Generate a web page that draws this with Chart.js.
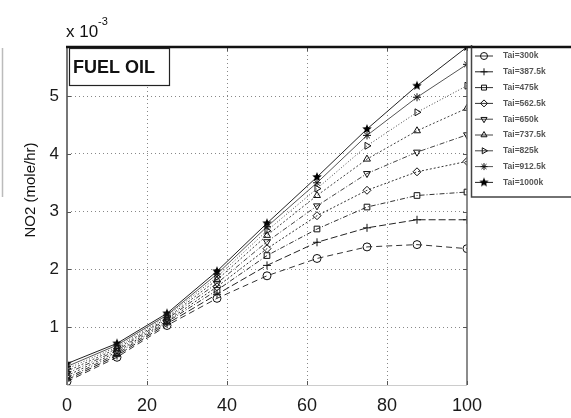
<!DOCTYPE html>
<html><head><meta charset="utf-8">
<script src="https://cdn.jsdelivr.net/npm/chart.js@4/dist/chart.umd.min.js"></script>
<style>html,body{margin:0;padding:0;background:#fff}#wrap{width:571px;height:418px;position:relative}</style>
</head><body><div id="wrap"><canvas id="c" width="571" height="418"></canvas></div>
<script>
// ---- data ----
const loads = [0, 12.5, 25, 37.5, 50, 62.5, 75, 87.5, 100];
const seriesLabels = ['Tai=300k','Tai=387.5k','Tai=475k','Tai=562.5k','Tai=650k','Tai=737.5k','Tai=825k','Tai=912.5k','Tai=1000k'];
const tai300  = [0.06, 0.48, 1.03, 1.50, 1.89, 2.19, 2.39, 2.43, 2.36];
const tai387  = [0.09, 0.51, 1.06, 1.57, 2.07, 2.47, 2.72, 2.86, 2.86];
const tai475  = [0.12, 0.54, 1.09, 1.64, 2.24, 2.70, 3.08, 3.28, 3.34];
const tai562  = [0.16, 0.57, 1.11, 1.70, 2.36, 2.93, 3.37, 3.69, 3.87];
const tai650  = [0.20, 0.60, 1.14, 1.76, 2.48, 3.10, 3.66, 4.03, 4.33];
const tai737  = [0.24, 0.63, 1.16, 1.82, 2.59, 3.28, 3.91, 4.40, 4.79];
const tai825  = [0.28, 0.66, 1.19, 1.87, 2.67, 3.40, 4.14, 4.72, 5.18];
const tai912  = [0.32, 0.69, 1.21, 1.92, 2.74, 3.50, 4.32, 4.98, 5.55];
const tai1000 = [0.37, 0.72, 1.24, 1.97, 2.80, 3.60, 4.43, 5.18, 5.85];
const xTicks = [0, 20, 40, 60, 80, 100];
const yTicks = [0, 1, 2, 3, 4, 5];
const yMax = 5.85;

// filled star marker for the hottest series
function filledStar(r){
  const c = document.createElement('canvas'); c.width = c.height = r*2+2;
  const g = c.getContext('2d'); g.fillStyle = '#000'; g.beginPath();
  for (let i=0;i<10;i++){
    const a = -Math.PI/2 + i*Math.PI/5, rr = i%2===0 ? r : r*0.45;
    const px = r+1 + rr*Math.cos(a), py = r+1 + rr*Math.sin(a);
    i===0 ? g.moveTo(px,py) : g.lineTo(px,py);
  }
  g.closePath(); g.fill(); return c;
}
const starImg = filledStar(5);

const allSeries = [tai300, tai387, tai475, tai562, tai650, tai737, tai825, tai912, tai1000];
const styles = [
  {ps:'circle', rot:0, dash:[6,4], col:'#333'},
  {ps:'cross', rot:0, dash:[7,3], col:'#222'},
  {ps:'rect', rot:0, dash:[5,2,1,2], col:'#333'},
  {ps:'rectRot', rot:0, dash:[2,2], col:'#333'},
  {ps:'triangle', rot:180, dash:[5,2,1,2], col:'#444'},
  {ps:'triangle', rot:0, dash:[2,2], col:'#444'},
  {ps:'triangle', rot:90, dash:[1,2], col:'#444'},
  {ps:'star', rot:0, dash:[], col:'#555'},
  {ps:starImg, rot:0, dash:[], col:'#222'}
];

const datasets = allSeries.map((s, i) => ({
  label: seriesLabels[i],
  data: loads.map((x, j) => ({x, y: s[j]})),
  borderColor: styles[i].col,
  backgroundColor: '#fff',
  pointBorderColor: '#111',
  pointBackgroundColor: 'rgba(255,255,255,0)',
  borderWidth: 1,
  borderDash: styles[i].dash,
  pointStyle: styles[i].ps,
  pointRotation: styles[i].rot,
  pointRadius: 4,
  pointBorderWidth: 1,
  tension: 0,
  fill: false
}));

const FONT = '"Liberation Sans", Arial, sans-serif';

const decor = {
  id: 'decor',
  afterDraw(chart) {
    const ctx = chart.ctx, a = chart.chartArea;
    const xs = chart.scales.x, ys = chart.scales.y;
    ctx.save();
    // stray gray line at left edge
    ctx.strokeStyle = '#bbb'; ctx.lineWidth = 1.5;
    ctx.beginPath(); ctx.moveTo(2.5, 48); ctx.lineTo(2.5, 197); ctx.stroke();
    // axes
    ctx.strokeStyle = '#777'; ctx.lineWidth = 2;
    ctx.beginPath(); ctx.moveTo(a.left, a.top); ctx.lineTo(a.left, a.bottom); ctx.stroke();
    ctx.strokeStyle = '#ccc'; ctx.lineWidth = 1;
    ctx.beginPath(); ctx.moveTo(a.left, a.bottom+0.5); ctx.lineTo(a.right, a.bottom+0.5); ctx.stroke();
    ctx.strokeStyle = '#666'; ctx.lineWidth = 1.5;
    ctx.beginPath(); ctx.moveTo(a.right, a.top); ctx.lineTo(a.right, a.bottom); ctx.stroke();
    // tick marks (inward)
    ctx.strokeStyle = '#555'; ctx.lineWidth = 1;
    xTicks.forEach(v => {
      if (v===0) return;
      const px = Math.round(xs.getPixelForValue(v))+0.5;
      ctx.beginPath(); ctx.moveTo(px, a.bottom); ctx.lineTo(px, a.bottom-4); ctx.stroke();
      ctx.beginPath(); ctx.moveTo(px, a.top); ctx.lineTo(px, a.top+4); ctx.stroke();
    });
    yTicks.forEach(v => {
      if (v===0) return;
      const py = Math.round(ys.getPixelForValue(v))+0.5;
      ctx.beginPath(); ctx.moveTo(a.left, py); ctx.lineTo(a.left+4, py); ctx.stroke();
      ctx.beginPath(); ctx.moveTo(a.right, py); ctx.lineTo(a.right-4, py); ctx.stroke();
    });
    // top border (thick), extends across legend
    ctx.strokeStyle = '#111'; ctx.lineWidth = 2.5;
    ctx.beginPath(); ctx.moveTo(a.left-1, a.top); ctx.lineTo(571, a.top); ctx.stroke();

    // exponent label
    ctx.fillStyle = '#111'; ctx.textBaseline = 'alphabetic'; ctx.textAlign = 'left';
    ctx.font = '17px ' + FONT; ctx.fillText('x 10', 66, 37);
    ctx.font = '11px ' + FONT; ctx.fillText('-3', 98, 25);

    // FUEL OIL box
    ctx.fillStyle = '#fff'; ctx.fillRect(69, 49, 101, 37);
    ctx.strokeStyle = '#222'; ctx.lineWidth = 1.2;
    ctx.strokeRect(69.5, 48.5, 100, 37);
    ctx.fillStyle = '#111'; ctx.font = 'bold 18px ' + FONT; ctx.textBaseline = 'middle';
    ctx.fillText('FUEL OIL', 73, 68);

    // y axis title
    ctx.save(); ctx.translate(31, 190); ctx.rotate(-Math.PI/2);
    ctx.textAlign = 'center'; ctx.textBaseline = 'middle';
    ctx.font = '15px ' + FONT; ctx.fillStyle = '#111';
    ctx.fillText('NO2 (mole/hr)', 0, 0);
    ctx.restore();

    // legend
    const lx = 471.5, ly = 45;
    ctx.fillStyle = '#fff'; ctx.fillRect(lx, ly, 571-lx, 152);
    ctx.strokeStyle = '#444'; ctx.lineWidth = 1.5;
    ctx.beginPath(); ctx.moveTo(lx, ly); ctx.lineTo(lx, ly+152); ctx.lineTo(571, ly+152); ctx.stroke();
    ctx.strokeStyle = '#111'; ctx.lineWidth = 2.5;
    ctx.beginPath(); ctx.moveTo(lx, a.top); ctx.lineTo(571, a.top); ctx.stroke();
    chart.data.datasets.forEach((ds, i) => {
      const y = 56 + i*15.8;
      ctx.strokeStyle = ds.borderColor; ctx.lineWidth = 1; ctx.setLineDash([]);
      ctx.beginPath(); ctx.moveTo(475, y); ctx.lineTo(493, y); ctx.stroke();
      ctx.strokeStyle = '#111'; ctx.fillStyle = 'rgba(255,255,255,0)';
      Chart.helpers.drawPoint(ctx, {pointStyle: ds.pointStyle, rotation: ds.pointRotation, radius: 3.5, borderWidth: 1}, 484, y);
      ctx.fillStyle = '#555'; ctx.font = 'bold 8.5px ' + FONT;
      ctx.textAlign = 'left'; ctx.textBaseline = 'middle';
      ctx.fillText(ds.label, 503, y);
    });
    ctx.restore();
  }
};

new Chart(document.getElementById('c'), {
  type: 'line',
  data: { datasets },
  plugins: [decor],
  options: {
    responsive: false, animation: false, devicePixelRatio: 1,
    layout: { padding: { top: 47, right: 104, bottom: 0, left: 0 } },
    plugins: { legend: { display: false }, tooltip: { enabled: false } },
    scales: {
      x: {
        type: 'linear', min: 0, max: 100,
        afterBuildTicks: s => { s.ticks = xTicks.map(v => ({value: v})); },
        afterFit: s => { s.height = 33; },
        grid: { drawTicks: false, lineWidth: 1,
          color: c => (c.tick && (c.tick.value === 0 || c.tick.value === 100)) ? 'rgba(0,0,0,0)' : '#888' },
        border: { display: false, dash: [1, 3] },
        ticks: { color: '#1a1a1a', font: { family: FONT, size: 18 }, padding: 10, maxRotation: 0 }
      },
      y: {
        type: 'linear', min: 0, max: yMax,
        afterBuildTicks: s => { s.ticks = yTicks.map(v => ({value: v})); },
        afterFit: s => { s.width = 67; },
        grid: { drawTicks: false, lineWidth: 1,
          color: c => (c.tick && c.tick.value === 0) ? 'rgba(0,0,0,0)' : '#888' },
        border: { display: false, dash: [1, 3] },
        ticks: { color: '#1a1a1a', font: { family: FONT, size: 17 }, padding: 8,
          callback: v => v === 0 ? '' : String(v) }
      }
    }
  }
});
</script></body></html>
